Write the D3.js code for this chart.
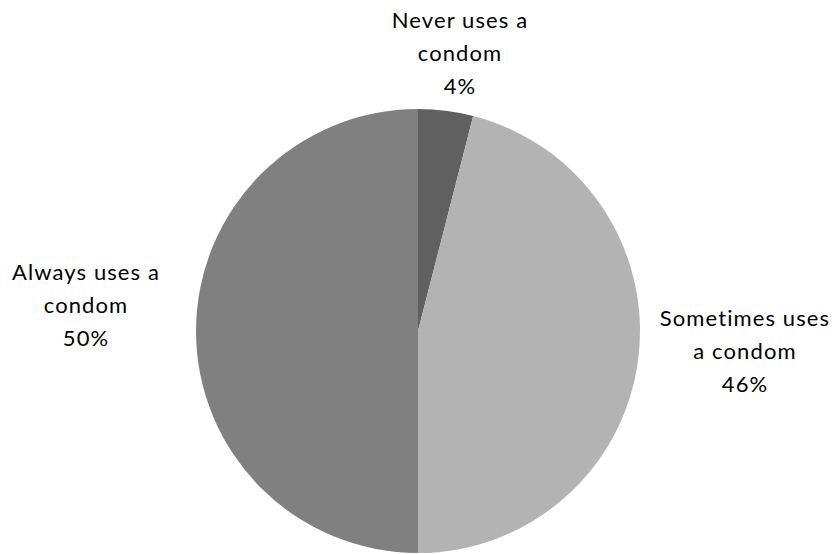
<!DOCTYPE html>
<html><head><meta charset="utf-8">
<script src="https://cdn.jsdelivr.net/npm/d3@7"></script>
<style>body{margin:0;background:#fff}svg{display:block}</style>
</head><body>
<svg id="c" width="835" height="554"></svg>
<script>
const categories = ["Never uses a condom", "Sometimes uses a condom", "Always uses a condom"];
const values = [4, 46, 50];
const labelLines = [["Never uses a", "condom", "4%"], ["Sometimes uses", "a condom", "46%"], ["Always uses a", "condom", "50%"]];
const colors = ["#606060", "#b3b3b3", "#808080"];

const svg = d3.select("#c");
const cx = 418, cy = 331, r = 222;
const pie = d3.pie().sort(null).value(d => d)(values);
const arc = d3.arc().innerRadius(0).outerRadius(r);
const g = svg.append("g").attr("transform", `translate(${cx},${cy})`);
g.selectAll("path").data(pie).enter().append("path")
  .attr("d", arc).attr("fill", (d, i) => colors[i]);

const labelPos = [[460, 20], [745, 318], [86, 272]];
const lh = 33;
labelLines.forEach((lines, i) => {
  const t = svg.append("text").attr("text-anchor", "middle")
    .attr("font-family", "Lato, sans-serif").attr("font-size", 22)
    .attr("letter-spacing", 1.1).attr("fill", "#000");
  lines.forEach((l, j) => {
    t.append("tspan").attr("x", labelPos[i][0]).attr("y", labelPos[i][1] + j * lh).attr("dy", "0.35em").text(l);
  });
});
</script>
</body></html>
